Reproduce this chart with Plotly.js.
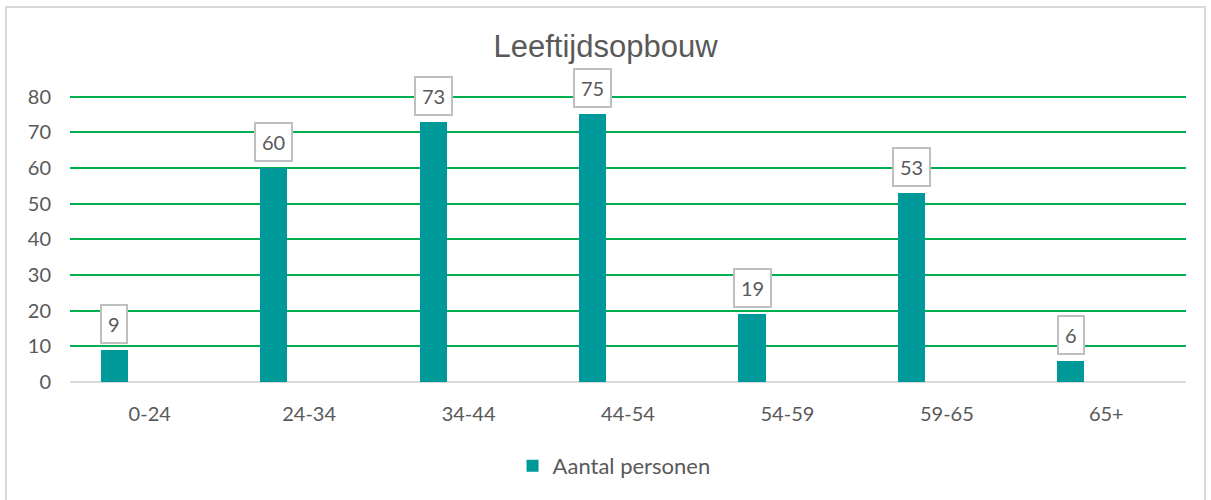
<!DOCTYPE html>
<html>
<head>
<meta charset="utf-8">
<script src="https://cdn.plot.ly/plotly-3.0.1.min.js"></script>
<style>
  html, body { margin: 0; padding: 0; background: #ffffff; }
  #chart { width: 1211px; height: 500px; }
</style>
</head>
<body>
<div id="chart"></div>
<script>
// Age groups and number of people per group
const categories = ['0-24', '24-34', '34-44', '44-54', '54-59', '59-65', '65+'];
const counts = [9, 60, 73, 75, 19, 53, 6];
const yTicks = [0, 10, 20, 30, 40, 50, 60, 70, 80];

const textColor = '#595959';
const barColor = '#009999';
const fontFamily = 'Lato, "Open Sans", sans-serif';

// Excel leaves room for a second (empty) series, so the bar sits left of the category centre
const barWidth = 0.17;
const barOffset = -0.307;

const traces = [
  {
    type: 'bar',
    x: categories,
    y: counts,
    name: 'Aantal personen',
    width: barWidth,
    offset: barOffset,
    marker: { color: barColor },
    hoverinfo: 'x+y'
  }
];

// Boxed data labels above every bar
const annotations = counts.map((v, i) => ({
  x: i + barOffset + barWidth / 2,
  y: v,
  xref: 'x',
  yref: 'y',
  text: String(v),
  showarrow: false,
  yanchor: 'bottom',
  yshift: 6,
  font: { family: fontFamily, size: 20, color: textColor },
  bgcolor: '#ffffff',
  bordercolor: '#bfbfbf',
  borderwidth: 2,
  borderpad: 6
}));

// plot area: y=0 at 382px, y=80 at ~97px
const plotH = 500 - 93 - 118;

const layout = {
  width: 1211,
  height: 500,
  margin: { l: 70, r: 25, t: 93, b: 118 },
  paper_bgcolor: '#ffffff',
  plot_bgcolor: '#ffffff',
  font: { family: fontFamily, color: textColor },
  title: {
    text: 'Leeftijdsopbouw',
    font: { family: '"Liberation Sans", Arial, sans-serif', size: 31, color: textColor },
    x: 0.5,
    xanchor: 'center',
    yref: 'container',
    y: 1 - 46 / 500,
    yanchor: 'middle'
  },
  xaxis: {
    type: 'category',
    range: [-0.5, categories.length - 0.5],
    showgrid: false,
    zeroline: false,
    showline: false,
    ticks: '',
    ticklabelstandoff: 18,
    tickfont: { family: fontFamily, size: 20, color: textColor },
    fixedrange: true
  },
  yaxis: {
    range: [0, 81],
    tickvals: yTicks,
    showgrid: true,
    gridcolor: '#00b050',
    gridwidth: 2,
    zeroline: true,
    zerolinecolor: '#d9d9d9',
    zerolinewidth: 2,
    showline: false,
    ticks: '',
    ticklabelstandoff: 18,
    tickfont: { family: fontFamily, size: 20, color: textColor },
    fixedrange: true
  },
  showlegend: true,
  legend: {
    orientation: 'h',
    x: 0.4875,
    xanchor: 'center',
    y: -(466 - 382) / plotH,
    yanchor: 'middle',
    font: { family: fontFamily, size: 22, color: textColor },
    bgcolor: 'rgba(0,0,0,0)'
  },
  annotations: annotations,
  shapes: [
    {
      // outer chart frame
      type: 'rect',
      xref: 'paper',
      yref: 'paper',
      x0: -64 / 1116,
      x1: 1135 / 1116,
      y0: -140 / plotH,
      y1: (382 - 7) / plotH,
      line: { color: '#d9d9d9', width: 2 },
      fillcolor: 'rgba(0,0,0,0)',
      layer: 'below'
    }
  ],
  bargap: 0
};

Plotly.newPlot('chart', traces, layout, { displayModeBar: false, staticPlot: true });
</script>
</body>
</html>
